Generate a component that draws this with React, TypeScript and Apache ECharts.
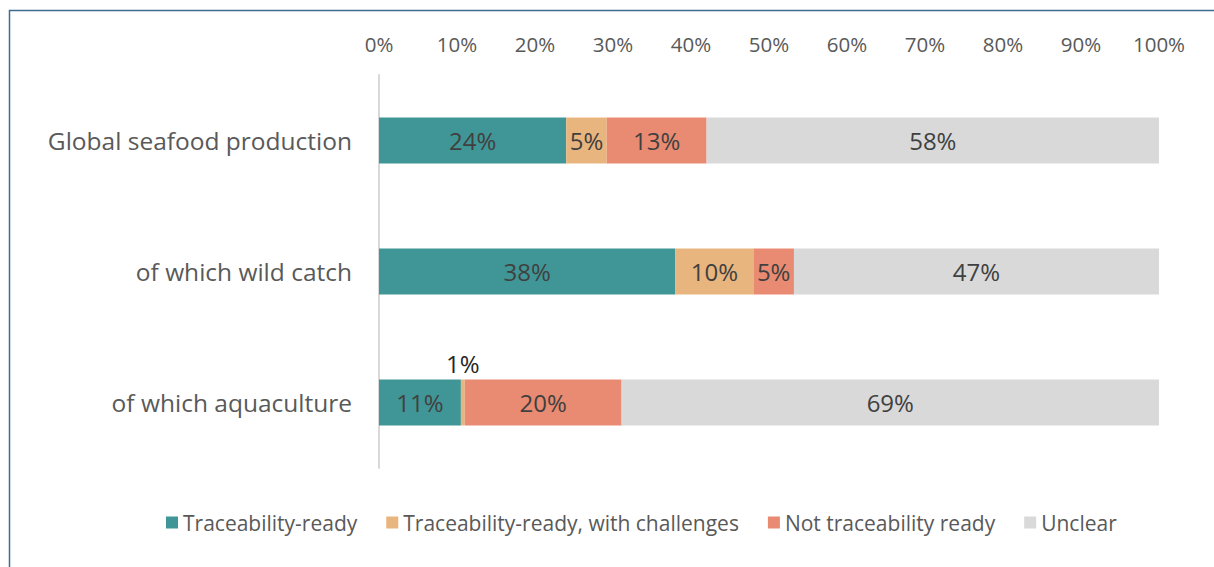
import React, { useEffect, useRef } from "react";
import * as echarts from "echarts";

const categories = ["Global seafood production", "of which wild catch", "of which aquaculture"];
const seriesNames = [
  "Traceability-ready",
  "Traceability-ready, with challenges",
  "Not traceability ready",
  "Unclear",
];
// shares (%); labels show them rounded
const traceReady = [24, 38, 10.5];
const traceChallenges = [5.2, 10, 0.5];
const notReady = [12.8, 5.2, 20.1];
const unclear = [58, 46.8, 68.9];
const colors = ["#409696", "#E9B57E", "#E98B72", "#D9D9D9"];
const tickValues = [0, 10, 20, 30, 40, 50, 60, 70, 80, 90, 100];

const FONT = "'Open Sans', 'Noto Sans', sans-serif";

export default function App() {
  const ref = useRef<HTMLDivElement>(null);
  useEffect(() => {
    if (!ref.current) return;
    const chart = echarts.init(ref.current, null, { renderer: "svg" });
    const cats = [...categories].reverse();
    const rev = (a: number[]) => [...a].reverse();
    const all = [traceReady, traceChallenges, notReady, unclear];
    const series = all.map((vals, si) => ({
      name: seriesNames[si],
      type: "bar",
      stack: "total",
      barWidth: "35%",
      itemStyle: { color: colors[si] },
      label: {
        show: true,
        position: "inside",
        formatter: (p: any) => `${Math.round(p.value)}%`,
        color: "#404040",
        fontSize: 24,
        fontFamily: FONT,
      },
      data: rev(vals).map((v) =>
        si === 1 && v < 3
          ? { value: v, label: { position: "top", distance: 4, color: "#262626" } }
          : v
      ),
    }));
    chart.setOption({
      animation: false,
      backgroundColor: "#ffffff",
      textStyle: { fontFamily: FONT },
      graphic: [
        {
          type: "rect",
          shape: { x: 9.5, y: 10.5, width: 1300, height: 700 },
          style: { fill: "none", stroke: "#3F6D8E", lineWidth: 1.5 },
          silent: true,
          z: -1,
        },
      ],
      grid: { left: 379, right: 55, top: 75, bottom: 99, containLabel: false },
      xAxis: {
        type: "value",
        position: "top",
        min: 0,
        max: 100,
        interval: 10,
        axisLine: { show: false },
        axisTick: { show: false },
        splitLine: { show: false },
        axisLabel: {
          formatter: (v: number) => (tickValues.includes(v) ? `${v}%` : ""),
          color: "#595959",
          fontSize: 20.5,
          fontFamily: FONT,
          margin: 21,
        },
      },
      yAxis: {
        type: "category",
        data: cats,
        axisLine: { show: true, lineStyle: { color: "#D9D9D9", width: 2 } },
        axisTick: { show: false },
        axisLabel: {
          color: "#595959",
          fontSize: 24.5,
          fontFamily: FONT,
          margin: 27,
        },
      },
      legend: {
        bottom: 29,
        left: 161,
        itemWidth: 12,
        itemHeight: 12,
        itemGap: 29,
        icon: "rect",
        textStyle: { color: "#595959", fontSize: 21, fontFamily: FONT },
        data: seriesNames,
      },
      series,
    });
    return () => chart.dispose();
  }, []);
  return (
    <div
      ref={ref}
      style={{ position: "fixed", left: 0, top: 0, width: 1214, height: 567 }}
    />
  );
}
